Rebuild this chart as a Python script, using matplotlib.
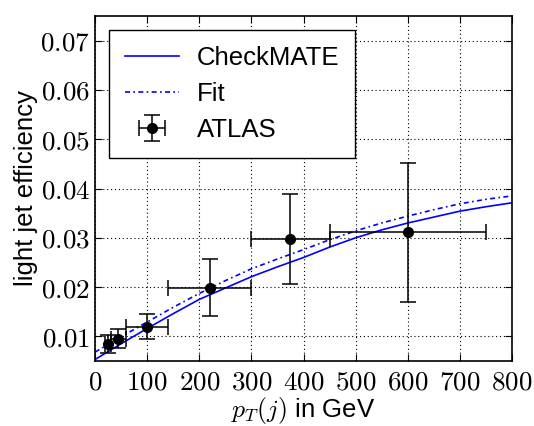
import numpy as np
import matplotlib
matplotlib.use("Agg")
from matplotlib import pyplot as plt
from matplotlib.ticker import FuncFormatter, MultipleLocator

plt.rcParams.update({'font.family': ['Liberation Sans', 'DejaVu Sans']})
plt.rcParams.update({'mathtext.fontset': 'cm'})
plt.rcParams.update({'font.size': 18.5})
plt.rcParams.update({'xtick.direction': 'in', 'ytick.direction': 'in'})
plt.rcParams.update({'xtick.top': True, 'ytick.right': True})
plt.rcParams.update({'xtick.major.size': 5, 'ytick.major.size': 5})
plt.rcParams.update({'xtick.major.pad': 6, 'ytick.major.pad': 3.5})
plt.rcParams.update({'xtick.labelsize': 19.5, 'ytick.labelsize': 19.5})

# ATLAS measurement
atlas_pt = [25, 45, 100, 220, 375, 600]
atlas_pt_err = [5, 15, 40, 80, 75, 150]
atlas_eff = [0.0085, 0.0095, 0.0120, 0.0199, 0.0298, 0.0311]
atlas_eff_err = [0.0018, 0.0019, 0.0025, 0.0057, 0.0091, 0.0141]

# curves
curve_pt = [0, 50, 100, 150, 200, 250, 300, 350, 400, 450, 500, 550, 600, 650, 700, 750, 800]
checkmate_eff = [0.0053, 0.0085, 0.0116, 0.0146, 0.0175, 0.0198, 0.0221, 0.0241, 0.0260,
                 0.0281, 0.0300, 0.0316, 0.0330, 0.0342, 0.0354, 0.0363, 0.0371]
fit_eff = [0.0068, 0.0099, 0.0129, 0.0159, 0.0187, 0.0213, 0.0237, 0.0257, 0.0276,
           0.0296, 0.0314, 0.0330, 0.0344, 0.0357, 0.0369, 0.0378, 0.0385]

fig = plt.figure(figsize=(5.34, 4.26), dpi=100)
ax = fig.add_axes([95/534, 65/426, 417/534, 345/426])

ax.plot(curve_pt, checkmate_eff, color='#0000ff', lw=1.2, label='CheckMATE')
ax.plot(curve_pt, fit_eff, color='#0000ff', lw=1.2, dashes=(3, 2, 1, 2), label='Fit')
ax.errorbar(atlas_pt, atlas_eff, xerr=atlas_pt_err, yerr=atlas_eff_err, fmt='o',
            color='black', ms=7, capsize=6, elinewidth=1.1, capthick=1.1, label='ATLAS')

ax.set_xlim(0, 800)
ax.set_ylim(0.005, 0.075)
ax.xaxis.set_major_locator(MultipleLocator(100))
ax.yaxis.set_major_locator(MultipleLocator(0.01))
ax.xaxis.set_major_formatter(FuncFormatter(lambda v, p: r'$%d$' % round(v)))
ax.yaxis.set_major_formatter(FuncFormatter(lambda v, p: r'$%.2f$' % v))
ax.grid(True, color='black', lw=0.8, linestyle=(0, (1, 2.5)))
for s in ax.spines.values():
    s.set_linewidth(1.2)

ax.set_xlabel(r'$p_T(j)$ in GeV', labelpad=0)
ax.set_ylabel('light jet efficiency', labelpad=2)

leg = ax.legend(loc='upper left', fancybox=False, framealpha=1, edgecolor='black',
                borderaxespad=0.55, handlelength=2.1, labelspacing=0.47, borderpad=0.62,
                handletextpad=0.7)
leg.get_frame().set_linewidth(1.0)

plt.savefig("out.png", dpi=100)
